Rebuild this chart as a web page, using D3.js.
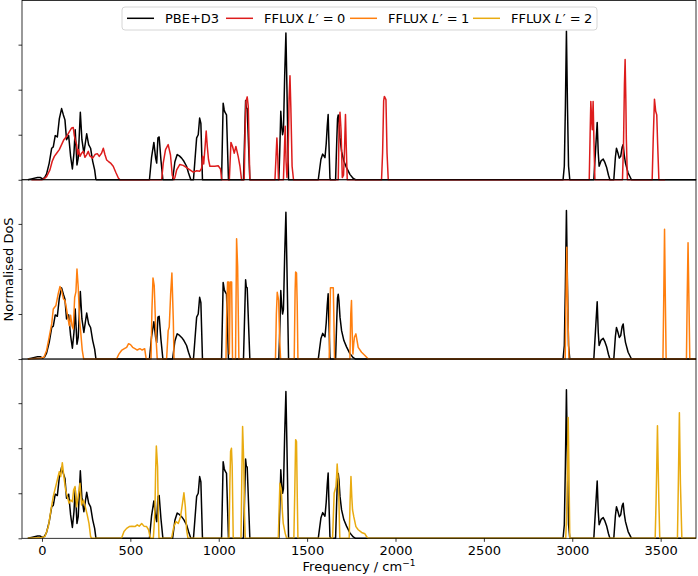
<!DOCTYPE html>
<html lang="en">
<head>
    <meta charset="UTF-8">
    <title>vibrational DoS</title>
    <script src="https://cdn.jsdelivr.net/npm/d3@7"></script>
    <style>
        body { margin: 0; background: #fff; }
        svg { display: block; }
        text { font-family: "DejaVu Sans", sans-serif; fill: #000; }
        .frame { fill: none; stroke: #000; stroke-width: 0.8; }
        .axis path { display: none; }
        .axis line { stroke: #000; stroke-width: 0.8; }
        .dos { fill: none; stroke-width: 1.5; stroke-linejoin: round; }
    </style>
</head>
<body>
<svg id="chart"></svg>
<script>
    // series: [frequency / cm-1, normalised DoS]
    const pbeD3 = [
        [-80,0],[-60,0.02],[-25,0.05],[-10,0.05],[4,0.02],[15,0.05],[26,0.13],[41,0.37],[55,0.70],[64,0.73],
        [75,0.98],[87,0.95],[98,1.35],[111,1.58],[121,1.44],[130,1.33],[139,0.89],[151,0.98],[162,0.52],[172,0.24],
        [181,0.59],[188,1.11],[198,0.33],[205,0.48],[217,1.50],[226,0.89],[237,0.59],[245,0.81],[253,1.02],[264,0.78],
        [275,0.70],[287,0.41],[298,0.22],[305,0.01],[308,0],
        [608,0],[620,0.50],[633,0.83],[643,0.48],[649,0.37],[656,0.93],[663,0.95],[673,0.44],[684,0],
        [739,0],[752,0.40],[765,0.56],[777,0.53],[790,0.48],[803,0.41],[818,0.30],[829,0.15],[842,0],
        [857,0],[865,0.41],[875,0.93],[884,1.0],[892,1.37],[899,1.25],[908,0],
        [1016,0],[1025,1.70],[1031,1.55],[1035,1.50],[1044,1.44],[1055,0],
        [1140,0],[1152,1.76],[1156,1.60],[1161,1.58],[1176,0],
        [1340,0],[1345,0.6],[1351,1.52],[1356,1.2],[1361,1.0],[1366,1.1],[1373,2.3],[1380,3.26],[1386,2.0],[1395,0],
        [1563,0],[1578,0.45],[1588,0.57],[1601,0.49],[1608,0.8],[1614,1.20],[1619,1.45],[1622,1.0],[1629,0.04],[1632,0],
        [1661,0],[1668,0.9],[1672,1.35],[1676,1.44],[1680,1.3],[1686,0.93],[1695,0.63],[1708,0.41],[1723,0.27],
        [1742,0.12],[1761,0.03],[1774,0],
        [2948,0],[2955,0.3],[2961,1.6],[2967,3.30],[2973,1.6],[2979,0.3],[2986,0],
        [3122,0],[3133,0.74],[3141,1.27],[3147,0.6],[3152,0.30],[3163,0.42],[3175,0.46],[3185,0.38],[3194,0.28],
        [3205,0.1],[3213,0],[3235,0],[3244,0.5],[3250,0.70],[3258,0.6],[3266,0.48],[3274,0.52],[3282,0.72],
        [3288,0.78],[3294,0.55],[3301,0.37],[3316,0.15],[3335,0],[3700,0]
    ];
    const ffluxL0 = [
        [-60,0],[-2,0],[8,0.01],[26,0.07],[45,0.22],[58,0.41],[70,0.52],[83,0.59],[98,0.67],[111,0.78],
        [124,0.89],[139,0.96],[155,1.07],[168,1.15],[177,1.16],[183,0.98],[188,0.89],[196,0.78],[202,0.56],[207,0.67],
        [215,0.52],[224,0.59],[234,0.63],[243,0.50],[253,0.56],[262,0.63],[271,0.53],[287,0.48],[300,0.56],[313,0.58],
        [324,0.52],[337,0.59],[347,0.70],[356,0.56],[366,0.44],[375,0.41],[388,0.37],[403,0.30],[418,0.16],[432,0.04],[441,0],
        [677,0],[686,0.37],[699,0.67],[714,0.78],[727,0.55],[737,0.10],[746,0],[752,0.05],[762,0.22],[780,0.34],
        [799,0.32],[818,0.27],[837,0.22],[856,0.17],[875,0.20],[893,0.19],[903,0.25],[909,0.52],[915,0.35],[923,0.75],
        [929,1.08],[935,0.75],[942,0.45],[950,0.30],[978,0.30],[997,0.31],[1010,0.24],[1017,0],
        [1060,0],[1069,0.83],[1078,0.74],[1088,0.59],[1097,0.74],[1110,0.52],[1120,0.30],[1129,0],
        [1144,0],[1150,1.2],[1154,1.74],[1161,1.84],[1167,1.63],[1176,0],
        [1318,0],[1324,0.5],[1329,0.93],[1334,0.5],[1338,0],
        [1366,0],[1371,0.6],[1376,1.19],[1381,0.4],[1386,0.05],[1392,0.4],[1398,1.8],[1403,2.31],[1408,1.6],[1415,0.3],[1423,0],
        [1676,0],[1681,1.2],[1686,1.5],[1692,1.1],[1699,0.05],[1706,0.1],[1711,0.6],[1717,1.45],[1721,0.8],[1727,0],
        [1921,0],[1927,0.6],[1933,1.75],[1937,1.85],[1946,1.78],[1952,0.6],[1959,0],
        [3096,0],[3101,1.0],[3105,1.74],[3110,1.3],[3113,1.11],[3118,1.74],[3123,0.8],[3128,0],
        [3284,0],[3290,0.8],[3295,2.1],[3299,2.67],[3303,1.8],[3306,0.9],[3312,0],
        [3452,0],[3458,0.9],[3465,1.79],[3472,1.52],[3478,1.44],[3483,0.8],[3490,0],[3525,0]
    ];
    const ffluxL1 = [
        [-80,0],[-11,0.02],[11,0.04],[26,0.19],[41,0.49],[55,0.78],[64,1.11],[79,1.19],[92,1.45],[102,1.61],
        [111,1.52],[121,1.34],[130,1.30],[139,1.11],[149,0.86],[155,0.74],[162,0.97],[170,0.74],[177,0.67],[185,1.37],
        [192,1.49],[198,2.0],[205,1.60],[213,0.86],[220,0.56],[228,0.19],[236,0],
        [422,0],[435,0.11],[450,0.19],[466,0.23],[479,0.26],[490,0.34],[501,0.32],[513,0.26],[526,0.23],[539,0.20],
        [554,0.23],[567,0.20],[581,0.23],[588,0.04],[592,0],
        [617,0],[622,1.08],[628,1.80],[635,1.63],[645,0.49],[652,0],
        [705,0],[714,0.63],[720,0.71],[728,1.45],[735,1.91],[743,0.86],[747,0],
        [1041,0],[1046,1.2],[1050,1.71],[1056,1.71],[1060,0.11],[1065,1.71],[1073,1.71],[1078,0],
        [1095,0],[1101,2.67],[1107,2.04],[1114,0],
        [1321,0],[1326,1.0],[1331,1.48],[1339,1.30],[1345,0.4],[1350,0],
        [1427,0],[1432,1.5],[1435,1.93],[1440,1.91],[1444,1.2],[1448,0],
        [1625,0],[1629,1.0],[1632,1.58],[1648,1.58],[1651,1.0],[1655,0],
        [1742,0],[1747,1.0],[1751,1.30],[1755,0.6],[1759,0.11],[1764,0.35],[1768,0.49],[1776,0.56],[1789,0.26],
        [1808,0.15],[1827,0.08],[1846,0],
        [2960,0],[2964,1.2],[2969,2.48],[2974,1.2],[2981,0],
        [3513,0],[3518,1.5],[3522,2.88],[3526,1.5],[3531,0],
        [3646,0],[3650,1.3],[3655,2.58],[3660,1.3],[3665,0],[3700,0]
    ];
    const ffluxL2 = [
        [-80,0],[-11,0.01],[17,0.04],[36,0.26],[51,0.63],[64,0.93],[75,1.11],[87,1.30],[98,1.48],[106,1.37],
        [115,1.68],[124,1.37],[134,1.07],[143,0.93],[153,0.78],[162,0.85],[172,0.81],[179,1.07],[187,1.15],[196,0.70],
        [205,0.93],[215,1.22],[224,0.74],[234,0.85],[245,0.70],[256,0.52],[266,0.33],[275,0.04],[281,0],
        [450,0],[464,0.15],[479,0.22],[494,0.26],[509,0.27],[526,0.26],[539,0.30],[550,0.27],[564,0.33],[577,0.27],
        [592,0.26],[603,0.19],[611,0.04],[616,0],
        [630,0],[635,0.3],[639,0.63],[643,1.5],[647,2.05],[654,1.59],[658,0.6],[662,0],
        [733,0],[746,0.26],[758,0.37],[771,0.33],[784,0.48],[795,0.78],[803,1.01],[811,0.70],[818,0.19],[826,0],
        [1058,0],[1063,1.2],[1067,1.93],[1072,2.0],[1076,1.6],[1082,0],
        [1126,0],[1130,1.2],[1135,2.48],[1139,2.0],[1142,1.59],[1146,0.5],[1150,0],
        [1337,0],[1342,0.7],[1346,1.22],[1350,1.15],[1354,1.07],[1360,0.6],[1365,0.33],[1376,0.11],[1384,0],
        [1425,0],[1430,1.0],[1435,2.19],[1440,2.15],[1444,1.0],[1448,0],
        [1644,0],[1653,1.0],[1663,1.15],[1667,1.4],[1670,1.65],[1674,1.4],[1678,1.15],[1685,0],
        [1738,0],[1743,0.8],[1748,1.37],[1753,0.9],[1757,0.63],[1764,0.48],[1776,0.26],[1789,0.19],[1808,0.13],
        [1827,0.10],[1836,0.04],[1846,0],
        [2963,0],[2968,0.5],[2973,1.6],[2977,2.68],[2981,1.6],[2986,0],
        [3469,0],[3474,0.8],[3478,1.6],[3482,2.50],[3486,1.6],[3490,0.8],[3495,0],
        [3595,0],[3600,1.2],[3606,2.79],[3612,1.2],[3620,0],[3700,0]
    ];
    const xTicks = [0, 500, 1000, 1500, 2000, 2500, 3000, 3500];
    const yTicks = [0, 1, 2, 3];

    const panels = [
        {series: ffluxL0, color: '#dd1c1c'},
        {series: ffluxL1, color: '#ff7f0e'},
        {series: ffluxL2, color: '#e9ab10'}
    ];
    const legendItems = [
        {color: '#000', label: ['PBE+D3']},
        {color: panels[0].color, label: ['FFLUX ', 'L', '′', ' = 0']},
        {color: panels[1].color, label: ['FFLUX ', 'L', '′', ' = 1']},
        {color: panels[2].color, label: ['FFLUX ', 'L', '′', ' = 2']}
    ];
    // left edge of each legend handle
    const legendSlots = [127, 226, 350, 473];

    const W = 698, H = 576;
    const plotLeft = 22, plotRight = 696, plotTop = 0.5, plotBottom = 538.3;
    const panelH = (plotBottom - plotTop) / panels.length;
    const fontSize = '13px';

    const svg = d3.select('#chart').attr('width', W).attr('height', H);

    const x = d3.scaleLinear().domain([-113, 3700]).range([plotLeft, plotRight]);

    panels.forEach((p, i) => {
        const y0 = plotTop + i * panelH, y1 = y0 + panelH;
        const y = d3.scaleLinear().domain([0, 3.98]).range([y1, y0]);
        const line = d3.line().x(d => x(d[0])).y(d => y(d[1]));
        const g = svg.append('g');

        g.append('path').attr('class', 'dos').attr('d', line(pbeD3)).attr('stroke', '#000');
        g.append('path').attr('class', 'dos').attr('d', line(p.series)).attr('stroke', p.color);

        g.append('g')
            .attr('class', 'axis')
            .attr('transform', `translate(${plotLeft},0)`)
            .call(d3.axisLeft(y).tickValues(yTicks).tickSize(3.5).tickFormat(''));

        if (i === panels.length - 1) {
            const xa = g.append('g')
                .attr('class', 'axis')
                .attr('transform', `translate(0,${y1})`)
                .call(d3.axisBottom(x).tickValues(xTicks).tickSize(3.5).tickPadding(4).tickFormat(d3.format('d')));
            xa.selectAll('text')
                .attr('font-family', null)
                .style('font-size', fontSize);
        }

        g.append('rect').attr('class', 'frame')
            .attr('x', plotLeft).attr('y', y0).attr('width', plotRight - plotLeft).attr('height', panelH);
    });

    svg.append('text')
        .attr('x', (plotLeft + plotRight) / 2).attr('y', 571)
        .attr('text-anchor', 'middle').style('font-size', fontSize)
        .text('Frequency / cm')
        .append('tspan').attr('dy', -5).style('font-size', '9px').text('−1');

    svg.append('text')
        .attr('transform', `translate(12.5,${(plotTop + plotBottom) / 2}) rotate(-90)`)
        .attr('text-anchor', 'middle').style('font-size', fontSize)
        .text('Normalised DoS');

    // legend
    const legend = svg.append('g');
    legend.append('rect')
        .attr('x', 122).attr('y', 7).attr('width', 475).attr('height', 23).attr('rx', 3)
        .attr('fill', '#fff').attr('fill-opacity', 0.85)
        .attr('stroke', '#ccc').attr('stroke-width', 0.8);
    legendItems.forEach((item, i) => {
        const lx = legendSlots[i];
        legend.append('line')
            .attr('x1', lx).attr('x2', lx + 27).attr('y1', 18.3).attr('y2', 18.3)
            .attr('stroke', item.color).attr('stroke-width', 1.5);
        const t = legend.append('text').attr('x', lx + 38).attr('y', 23).style('font-size', fontSize);
        item.label.forEach((part, k) => {
            const s = t.append('tspan').text(part);
            if (k === 1) s.style('font-style', 'italic');
            if (k === 2) s.attr('dx', 0.5);
            if (k === 3) s.style('letter-spacing', '-0.3px');
        });
    });
</script>
</body>
</html>
